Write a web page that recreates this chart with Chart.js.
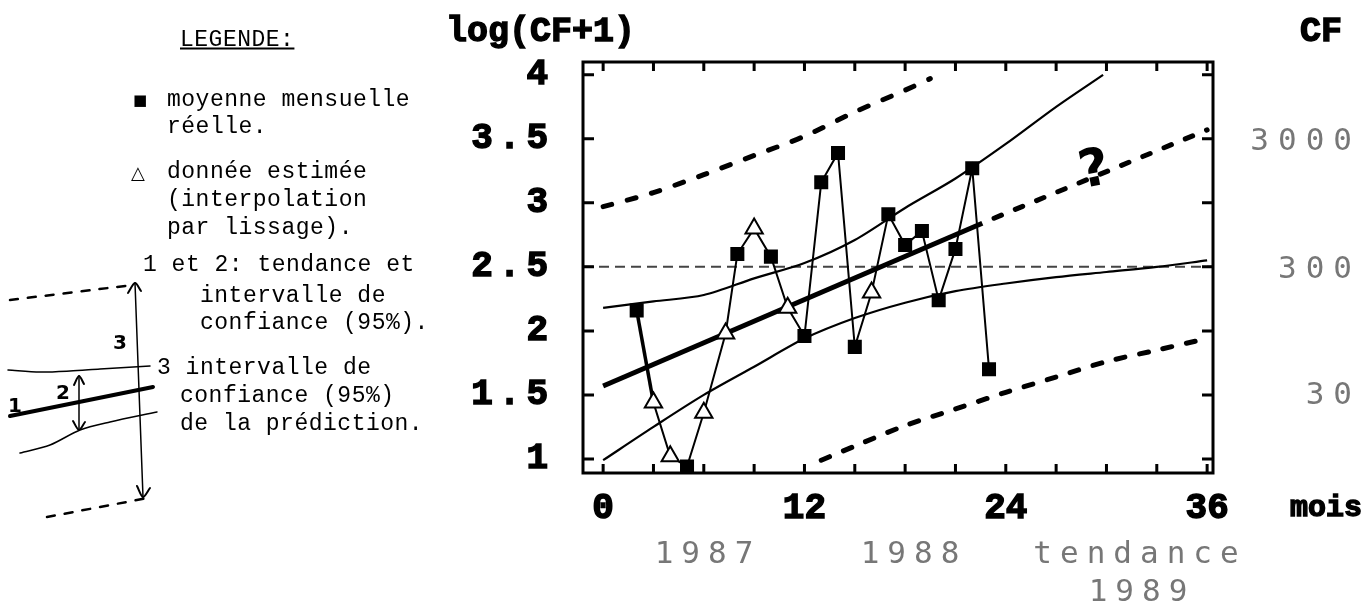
<!DOCTYPE html>
<html lang="fr">
<head>
<meta charset="utf-8">
<title>log(CF+1) - tendance</title>
<script src="https://cdn.jsdelivr.net/npm/chart.js@4.4.1/dist/chart.umd.min.js"></script>
<style>
  html, body { margin: 0; padding: 0; background: #fff; }
  #page { position: relative; width: 1372px; height: 603px; overflow: hidden; }
  canvas { position: absolute; }
  .t { position: absolute; white-space: pre; color: #000; transform: translateY(-50%); }
  .leg { font-family: "Liberation Mono", monospace; font-size: 23px; letter-spacing: 0.5px; line-height: 1; }
  .big { font-family: "Liberation Mono", monospace; font-weight: bold; font-size: 35px; -webkit-text-stroke: 1.4px #000; }
  .dot { font-family: "DejaVu Sans Mono", monospace; font-size: 31px; letter-spacing: 8px; color: #777; transform: translate(-50%, -50%); }
  .hand { font-family: "DejaVu Sans", sans-serif; font-weight: bold; font-size: 20px; transform: translate(-50%, -50%); }
</style>
</head>
<body>
<div id="page">
  <canvas id="sketch" width="175" height="280" style="left:0;top:260px"></canvas>
  <canvas id="chart" width="1372" height="603" style="left:0;top:0"></canvas>

  <div class="t leg" style="left:180px;top:40px;text-decoration:underline">LEGENDE:</div>
  <div class="t" style="left:133px;top:100px;font:15px 'DejaVu Sans'">■</div>
  <div class="t leg" style="left:167px;top:100px">moyenne mensuelle</div>
  <div class="t leg" style="left:167px;top:127px">réelle.</div>
  <div class="t" style="left:131px;top:172px;font:18px 'DejaVu Sans'">△</div>
  <div class="t leg" style="left:167px;top:172px">donnée estimée</div>
  <div class="t leg" style="left:167px;top:200px">(interpolation</div>
  <div class="t leg" style="left:167px;top:228px">par lissage).</div>
  <div class="t leg" style="left:143px;top:265px">1 et 2: tendance et</div>
  <div class="t leg" style="left:200px;top:296px">intervalle de</div>
  <div class="t leg" style="left:200px;top:323px">confiance (95%).</div>
  <div class="t leg" style="left:157px;top:368px">3 intervalle de</div>
  <div class="t leg" style="left:180px;top:396px">confiance (95%)</div>
  <div class="t leg" style="left:180px;top:424px">de la prédiction.</div>

  <div class="t hand" style="left:15px;top:405px">1</div>
  <div class="t hand" style="left:63px;top:392px">2</div>
  <div class="t hand" style="left:120px;top:342px">3</div>

  <div class="t big" style="left:446px;top:32px">log(CF+1)</div>
  <div class="t big" style="left:1300px;top:32px">CF</div>
  <div class="t big" style="left:1290px;top:508px;font-size:30px">mois</div>

  <div class="t dot" style="left:708px;top:552px">1987</div>
  <div class="t dot" style="left:914px;top:552px">1988</div>
  <div class="t dot" style="left:1140px;top:552px">tendance</div>
  <div class="t dot" style="left:1142px;top:590px">1989</div>
</div>

<script>
// mois 0 = janvier 1987
const months = [2, 3, 4, 5, 6, 7.3, 8, 9, 10, 11, 12, 13, 14, 15, 16, 17, 18, 19, 20, 21, 22, 23];
const monthlyMean = [2.16, 1.44, 1.02, 0.94, 1.36, 1.98, 2.60, 2.80, 2.58, 2.18, 1.96, 3.16, 3.39, 1.875, 2.30, 2.91, 2.67, 2.78, 2.24, 2.64, 3.27, 1.70];
const isEstimated = [false, true, true, false, true, true, false, true, false, true, false, false, false, false, true, false, false, false, false, false, false, false];

const trendMonths = [0, 22.6];
const trendValues = [1.57, 2.84];
const forecastMonths = [23.3, 36];
const forecastValues = [2.88, 3.57];

const ciUpMonths = [0, 3, 6, 9, 12, 15, 18, 21, 24, 27, 29.8];
const ciUpValues = [2.18, 2.23, 2.28, 2.41, 2.53, 2.71, 2.96, 3.19, 3.46, 3.75, 4.0];
const ciLowMonths = [0, 3, 6, 9, 12, 15, 18, 21, 24, 27, 30, 33, 36];
const ciLowValues = [0.99, 1.25, 1.50, 1.72, 1.94, 2.10, 2.22, 2.31, 2.37, 2.42, 2.46, 2.50, 2.55];

const predUpMonths = [0, 3, 6, 9, 12, 15, 18, 19.5];
const predUpValues = [2.97, 3.08, 3.22, 3.37, 3.52, 3.71, 3.88, 3.97];
const predLowMonths = [13, 15, 18, 21, 24, 27, 30, 33, 36];
const predLowValues = [0.99, 1.10, 1.26, 1.39, 1.52, 1.64, 1.76, 1.85, 1.94];

const refLevel = 2.5;
const xMin = -1.2, xMax = 36.35;
const yMin = 0.89, yMax = 4.1;
const xStep = 3, xLabelEvery = 12;
const yStep = 0.5;

const cfValues = [3.477, 2.479, 1.491];
const cfLabels = ['3000', '300', '30'];
const questionMark = { x: 29.3, y: 3.24 };

function pts(xs, ys) {
    return xs.map((x, i) => ({ x: x, y: ys[i] }));
}

const boldFont = { family: 'Liberation Mono', weight: 'bold', size: 36 };

const frameAndTicks = {
    id: 'frameAndTicks',
    beforeDraw(chart) {
        // wide spacing for the y labels only (drawn before datasets)
        chart.ctx.letterSpacing = '6px';
    },
    beforeDatasetsDraw(chart) {
        chart.ctx.letterSpacing = '0px';
    },
    afterDraw(chart) {
        const { ctx, chartArea: a, scales: { x, y } } = chart;
        ctx.save();
        ctx.letterSpacing = '0px';
        ctx.strokeStyle = '#000';
        ctx.lineWidth = 3;
        ctx.strokeRect(a.left, a.top, a.right - a.left, a.bottom - a.top);

        ctx.beginPath();
        x.ticks.forEach(t => {
            const px = x.getPixelForValue(t.value);
            ctx.moveTo(px, a.bottom); ctx.lineTo(px, a.bottom - 9);
            ctx.moveTo(px, a.top); ctx.lineTo(px, a.top + 9);
        });
        y.ticks.forEach(t => {
            const py = y.getPixelForValue(t.value);
            ctx.moveTo(a.left, py); ctx.lineTo(a.left + 11, py);
            ctx.moveTo(a.right, py); ctx.lineTo(a.right - 11, py);
        });
        ctx.stroke();

        // CF scale on the right
        ctx.font = '31px "DejaVu Sans Mono"';
        ctx.fillStyle = '#777';
        ctx.textAlign = 'right';
        ctx.textBaseline = 'middle';
        ctx.letterSpacing = '9px';
        cfValues.forEach((v, i) => {
            ctx.fillText(cfLabels[i], a.right + 148, y.getPixelForValue(v));
        });

        // hand-written question mark on the forecast
        ctx.letterSpacing = '0px';
        ctx.fillStyle = '#000';
        ctx.textAlign = 'center';
        ctx.font = 'bold 52px "DejaVu Sans"';
        ctx.translate(x.getPixelForValue(questionMark.x), y.getPixelForValue(questionMark.y));
        ctx.rotate(-0.2);
        ctx.fillText('?', 0, 0);
        ctx.restore();
    }
};

new Chart(document.getElementById('chart'), {
    type: 'scatter',
    data: {
        datasets: [
            {
                label: 'moyenne mensuelle',
                data: pts(months, monthlyMean),
                showLine: true,
                borderColor: '#000',
                borderWidth: 2,
                segment: { borderWidth: ctx => (ctx.p0DataIndex < 1 ? 3.5 : 2) },
                pointStyle: ctx => isEstimated[ctx.dataIndex] ? 'triangle' : 'rect',
                pointRadius: ctx => isEstimated[ctx.dataIndex] ? 10 : 8.5,
                pointBackgroundColor: ctx => isEstimated[ctx.dataIndex] ? '#fff' : '#000',
                pointBorderColor: '#000',
                pointBorderWidth: 2,
                order: 0
            },
            {
                label: 'tendance',
                data: pts(trendMonths, trendValues),
                showLine: true, pointRadius: 0,
                borderColor: '#000', borderWidth: 5,
                order: 1
            },
            {
                label: 'tendance 1989',
                data: pts(forecastMonths, forecastValues),
                showLine: true, pointRadius: 0,
                borderColor: '#000', borderWidth: 5,
                borderDash: [8, 15], borderCapStyle: 'round',
                order: 2
            },
            {
                label: 'IC tendance haut',
                data: pts(ciUpMonths, ciUpValues),
                showLine: true, pointRadius: 0, tension: 0.3,
                borderColor: '#000', borderWidth: 2.2,
                order: 3
            },
            {
                label: 'IC tendance bas',
                data: pts(ciLowMonths, ciLowValues),
                showLine: true, pointRadius: 0, tension: 0.3,
                borderColor: '#000', borderWidth: 2.2,
                order: 4
            },
            {
                label: 'IC prediction haut',
                data: pts(predUpMonths, predUpValues),
                showLine: true, pointRadius: 0, tension: 0.3,
                borderColor: '#000', borderWidth: 5,
                borderDash: [9, 16], borderCapStyle: 'round',
                order: 5
            },
            {
                label: 'IC prediction bas',
                data: pts(predLowMonths, predLowValues),
                showLine: true, pointRadius: 0, tension: 0.3,
                borderColor: '#000', borderWidth: 5,
                borderDash: [9, 15], borderCapStyle: 'round',
                order: 6
            },
            {
                label: '300',
                data: [{ x: xMin, y: refLevel }, { x: xMax, y: refLevel }],
                showLine: true, pointRadius: 0,
                borderColor: '#444', borderWidth: 2,
                borderDash: [10, 6],
                order: 7
            }
        ]
    },
    options: {
        responsive: false,
        animation: false,
        devicePixelRatio: 1,
        layout: { padding: { left: 440, right: 159, top: 62, bottom: 0 } },
        plugins: {
            legend: { display: false },
            tooltip: { enabled: false }
        },
        scales: {
            x: {
                type: 'linear',
                min: xMin,
                max: xMax,
                grid: { display: false, drawTicks: false },
                border: { display: false },
                afterFit: s => { s.height = 130; },
                ticks: {
                    z: 1,
                    stepSize: xStep,
                    includeBounds: false,
                    autoSkip: false,
                    maxRotation: 0,
                    padding: 14,
                    color: '#000',
                    textStrokeColor: '#000',
                    textStrokeWidth: 1.5,
                    font: boldFont,
                    callback: v => (v % xLabelEvery === 0 ? String(v) : '')
                }
            },
            y: {
                min: yMin,
                max: yMax,
                grid: { display: false, drawTicks: false },
                border: { display: false },
                afterFit: s => { s.width = 143; },
                ticks: {
                    stepSize: yStep,
                    includeBounds: false,
                    padding: 29,
                    color: '#000',
                    textStrokeColor: '#000',
                    textStrokeWidth: 1.5,
                    font: boldFont,
                    callback: v => String(v)
                }
            }
        }
    },
    plugins: [frameAndTicks]
});

// legend sketch (page pixel units)
const sketchUpperDashX = [10, 133], sketchUpperDashY = [300, 285];
const sketchLowerDashX = [47, 153], sketchLowerDashY = [517, 497];
const sketchThinUpX = [8, 40, 70, 100, 150], sketchThinUpY = [370, 372, 371, 369, 366];
const sketchThinLowX = [20, 50, 80, 110, 157], sketchThinLowY = [453, 445, 430, 422, 412];
const sketchThickX = [10, 153], sketchThickY = [416, 387];
const sketchArrow3X = [135, 143], sketchArrow3Y = [283, 497];
const sketchHead3TopX = [128, 135, 141], sketchHead3TopY = [293, 283, 291];
const sketchHead3BotX = [137, 143, 150], sketchHead3BotY = [486, 497, 488];
const sketchArrow2X = [79, 79], sketchArrow2Y = [376, 430];
const sketchHead2TopX = [74, 79, 84], sketchHead2TopY = [385, 376, 384];
const sketchHead2BotX = [73, 79, 85], sketchHead2BotY = [421, 430, 422];

function sketchLine(xs, ys, width, dash) {
    return {
        data: pts(xs, ys), showLine: true, pointRadius: 0,
        borderColor: '#000', borderWidth: width, borderDash: dash || [],
        borderCapStyle: 'round', tension: 0.3
    };
}

new Chart(document.getElementById('sketch'), {
    type: 'scatter',
    data: {
        datasets: [
            sketchLine(sketchUpperDashX, sketchUpperDashY, 2.5, [8, 10]),
            sketchLine(sketchLowerDashX, sketchLowerDashY, 2.5, [8, 10]),
            sketchLine(sketchThinUpX, sketchThinUpY, 1.5),
            sketchLine(sketchThinLowX, sketchThinLowY, 1.5),
            sketchLine(sketchThickX, sketchThickY, 4),
            sketchLine(sketchArrow3X, sketchArrow3Y, 1.5),
            sketchLine(sketchHead3TopX, sketchHead3TopY, 2),
            sketchLine(sketchHead3BotX, sketchHead3BotY, 2),
            sketchLine(sketchArrow2X, sketchArrow2Y, 1.5),
            sketchLine(sketchHead2TopX, sketchHead2TopY, 2),
            sketchLine(sketchHead2BotX, sketchHead2BotY, 2)
        ]
    },
    options: {
        responsive: false,
        animation: false,
        devicePixelRatio: 1,
        layout: { padding: 0 },
        plugins: { legend: { display: false }, tooltip: { enabled: false } },
        scales: {
            x: { type: 'linear', display: false, min: 0, max: 175 },
            y: { type: 'linear', display: false, min: 260, max: 540, reverse: true }
        }
    }
});
</script>
</body>
</html>
